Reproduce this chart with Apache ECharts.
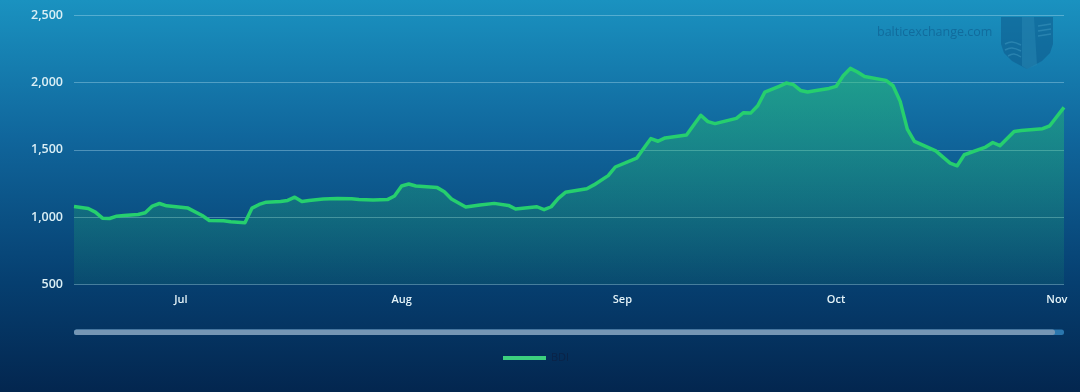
<!DOCTYPE html>
<html><head><meta charset="utf-8">
<style>html,body{margin:0;padding:0;background:#03264f}#c{width:1080px;height:392px}</style>
<script src="https://cdn.jsdelivr.net/npm/echarts@6/dist/echarts.min.js"></script>
</head><body><div id="c"></div>
<script>
const dates = ["06-16","06-18","06-19","06-20","06-21","06-22","06-23","06-25","06-26","06-27","06-28","06-29","07-01","07-02","07-04","07-05","07-07","07-08","07-10","07-11","07-12","07-13","07-15","07-16","07-17","07-18","07-19","07-21","07-23","07-25","07-26","07-28","07-30","07-31","08-01","08-02","08-03","08-06","08-07","08-08","08-10","08-12","08-14","08-16","08-17","08-20","08-21","08-22","08-23","08-24","08-27","08-28","08-30","08-31","09-03","09-04","09-05","09-06","09-07","09-10","09-12","09-13","09-14","09-17","09-18","09-19","09-20","09-21","09-23","09-24","09-25","09-26","09-27","09-28","09-30","10-01","10-02","10-03","10-04","10-05","10-08","10-09","10-10","10-11","10-12","10-15","10-17","10-18","10-19","10-22","10-23","10-24","10-26","10-27","10-30","10-31","11-02"];
const bdi = [1079,1064,1037,992,990,1007,1012,1020,1032,1082,1101,1084,1074,1067,1012,975,973,965,958,1067,1094,1111,1116,1124,1148,1116,1124,1134,1139,1136,1130,1127,1130,1157,1231,1246,1231,1219,1189,1135,1075,1090,1102,1087,1060,1077,1055,1077,1139,1184,1211,1239,1308,1372,1437,1511,1583,1563,1588,1610,1756,1709,1694,1733,1775,1772,1827,1928,1970,1995,1983,1940,1928,1938,1955,1970,2049,2104,2077,2044,2015,1975,1859,1653,1562,1492,1401,1381,1463,1520,1554,1530,1636,1643,1656,1678,1814];
const year = "2023-";
const monthTicks = ["07-01","08-01","09-01","10-01","11-01"];
const monthNames = ["Jul","Aug","Sep","Oct","Nov"];
const yTicks = [500,1000,1500,2000,2500];
const seriesName = "BDI";

const chart = echarts.init(document.getElementById('c'), null, {renderer:'canvas'});
const p = s => +echarts.time.parse(year + s);
const tickTimes = monthTicks.map(p);
const font = '"Open Sans", Lato, sans-serif';
const wave = (pts, color) => ({type:'polyline',shape:{points:pts,smooth:0.4},style:{stroke:color,fill:null,lineWidth:1.5},silent:true});
const waveColor = 'rgba(60,150,190,0.55)';
chart.setOption({
  animation:false,
  backgroundColor:{type:'linear',x:0,y:0,x2:0,y2:1,colorStops:[
    {offset:0,color:'#1a92c0'},{offset:0.35,color:'#10669c'},{offset:0.72,color:'#063f70'},{offset:1,color:'#03264f'}]},
  grid:{left:74,right:16,top:15,bottom:107.5},
  legend:{show:true,left:503,top:352.5,padding:0,itemWidth:43,itemHeight:4,itemGap:6,
    textStyle:{color:'#0b2347',fontSize:11,fontFamily:font},
    data:[{name:seriesName,icon:'rect',itemStyle:{color:'#3ccf7e'}}]},
  xAxis:{type:'value',min:p(dates[0]),max:p(dates[dates.length-1]),scale:true,
    axisLine:{show:false},axisTick:{show:false},splitLine:{show:false},
    axisLabel:{customValues:tickTimes,hideOverlap:false,showMinLabel:true,showMaxLabel:true,margin:10,color:'#e4f3f8',fontSize:11,fontWeight:600,fontFamily:font,
      formatter:v=>monthNames[tickTimes.indexOf(+v)]||''}},
  yAxis:{type:'value',min:500,max:2500,interval:500,
    axisLine:{show:false},axisTick:{show:false},
    splitLine:{lineStyle:{color:'rgba(190,230,245,0.36)',width:1}},
    axisLabel:{margin:11,color:'#dcf0f6',fontSize:12.5,fontWeight:600,fontFamily:font,
      formatter:v=>yTicks.includes(v)?v.toLocaleString('en-US'):''}},
  series:[{name:seriesName,type:'line',showSymbol:false,symbol:'none',smooth:false,
    data:dates.map((d,i)=>[p(d),bdi[i]]),
    lineStyle:{color:'#26cf6e',width:3.5,join:'round'},
    itemStyle:{color:'#26cf6e'},
    areaStyle:{color:{type:'linear',x:0,y:0,x2:0,y2:1,colorStops:[
      {offset:0,color:'rgba(42,200,105,0.68)'},{offset:1,color:'rgba(42,200,105,0.12)'}]}}}],
  graphic:[
    {type:'rect',shape:{x:74,y:329.5,width:990,height:5.5,r:2.5},style:{fill:'#2a76ad'},silent:true},
    {type:'rect',shape:{x:74,y:329.5,width:981,height:5.5,r:2.5},style:{fill:'#7596b4'},silent:true},
    {type:'text',x:877,y:26,style:{text:'balticexchange.com',fill:'rgba(10,70,120,0.42)',font:'12.5px '+font},silent:true},
    {type:'polygon',shape:{points:[[1001,17],[1053,17],[1053,44],[1050,53],[1042,61],[1027,69],[1012,61],[1004,53],[1001,44]]},style:{fill:'rgba(12,85,135,0.5)'},silent:true},
    {type:'polygon',shape:{points:[[1022,17],[1034,17],[1037,65],[1027,69],[1022,66]]},style:{fill:'rgba(40,135,180,0.5)'},silent:true},
    wave([[1005,44],[1012,42],[1021,45]],waveColor),
    wave([[1005,50],[1012,48],[1021,51]],waveColor),
    wave([[1008,56],[1014,54],[1021,57]],waveColor),
    wave([[1038,26],[1051,24]],waveColor),
    wave([[1038,31],[1051,29]],waveColor),
    wave([[1038,36],[1051,34]],waveColor)
  ]
});
</script></body></html>
